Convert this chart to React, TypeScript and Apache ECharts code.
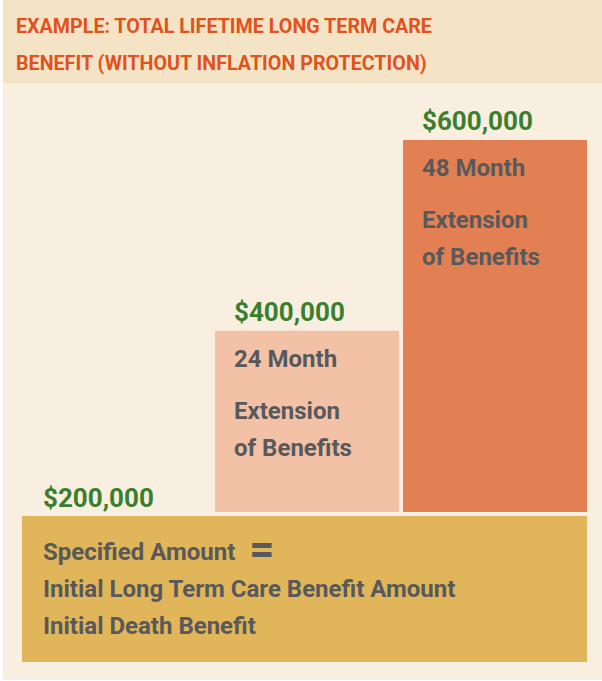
import React, { useEffect, useRef } from "react";
import * as echarts from "echarts";

const titleLines = ["EXAMPLE: TOTAL LIFETIME LONG TERM CARE", "BENEFIT (WITHOUT INFLATION PROTECTION)"];
const baseCategory = ["Specified Amount"];
const baseAmount = [200000];
const baseLines = ["Specified Amount", "Initial Long Term Care Benefit Amount", "Initial Death Benefit"];
const extensionCategories = ["24 Month", "48 Month"];
const extensionTotals = [400000, 600000];
const extensionLines = ["Extension", "of Benefits"];

const FONT = "Roboto, 'Liberation Sans', sans-serif";
const GREEN = "#3a7f2e";
const DARK = "#58595b";
const money = (v: number) => "$" + v.toLocaleString("en-US");

export default function App() {
  const ref = useRef<HTMLDivElement>(null);
  useEffect(() => {
    if (!ref.current) return;
    const chart = echarts.init(ref.current, null, { renderer: "svg" });
    const barColors = ["#f3c1a6", "#e38053"];
    chart.setOption({
      animation: false,
      backgroundColor: "#ffffff",
      graphic: [
        { type: "rect", z: -10, shape: { x: 3, y: 0, width: 599, height: 83 }, style: { fill: "#f4e3c4" } },
        { type: "rect", z: -10, shape: { x: 3, y: 83, width: 599, height: 597 }, style: { fill: "#f9efe0" } },
      ],
      title: {
        text: titleLines.join("\n"),
        left: 16,
        top: 8,
        padding: 0,
        textStyle: { fontFamily: FONT, fontWeight: "bold", fontSize: 19.7, lineHeight: 37, color: "#e0521e" },
      },
      grid: [
        { left: 22, right: 15, top: 516, bottom: 19 },
        { left: 213, right: 13, top: 140, bottom: 169 },
      ],
      xAxis: [
        { type: "category", gridIndex: 0, data: baseCategory, show: false },
        { type: "category", gridIndex: 1, data: extensionCategories, show: false },
      ],
      yAxis: [
        { type: "value", gridIndex: 0, min: 0, max: baseAmount[0], show: false },
        { type: "value", gridIndex: 1, min: 210000, max: Math.max(...extensionTotals), show: false },
      ],
      series: [
        {
          type: "bar",
          xAxisIndex: 0,
          yAxisIndex: 0,
          barWidth: "100%",
          data: baseAmount,
          itemStyle: { color: "#e1b55a" },
          label: {
            show: true,
            position: [21, -53.5],
            align: "left",
            verticalAlign: "top",
            formatter: (p: any) =>
              `{amt|${money(p.value)}}\n{hd|${baseLines[0]}}{eq|=}\n{tx|${baseLines[1]}}\n{tx|${baseLines[2]}}`,
            rich: {
              amt: { fontFamily: FONT, fontWeight: "bold", fontSize: 26, color: GREEN, lineHeight: 71 },
              hd: { fontFamily: FONT, fontWeight: "bold", fontSize: 24, color: DARK, lineHeight: 37 },
              eq: { fontFamily: FONT, fontWeight: "bold", fontSize: 44, color: DARK, lineHeight: 37, padding: [0, 0, 6, 14] },
              tx: { fontFamily: FONT, fontWeight: "bold", fontSize: 24, color: DARK, lineHeight: 37 },
            },
          },
        },
        {
          type: "bar",
          xAxisIndex: 1,
          yAxisIndex: 1,
          barWidth: 184,
          data: extensionTotals.map((v, i) => ({ value: v, itemStyle: { color: barColors[i] } })),
          label: {
            show: true,
            position: [19, -32.5],
            align: "left",
            verticalAlign: "top",
            formatter: (p: any) =>
              `{amt|${money(p.value)}}\n{hd|${extensionCategories[p.dataIndex]}}\n{tx|${extensionLines[0]}}\n{tx|${extensionLines[1]}}`,
            rich: {
              amt: { fontFamily: FONT, fontWeight: "bold", fontSize: 26, color: GREEN, lineHeight: 27 },
              hd: { fontFamily: FONT, fontWeight: "bold", fontSize: 24, color: DARK, lineHeight: 67 },
              tx: { fontFamily: FONT, fontWeight: "bold", fontSize: 24, color: DARK, lineHeight: 37 },
            },
          },
        },
      ],
    });
    return () => chart.dispose();
  }, []);
  return <div ref={ref} style={{ position: "absolute", left: 0, top: 0, width: 602, height: 681 }} />;
}
